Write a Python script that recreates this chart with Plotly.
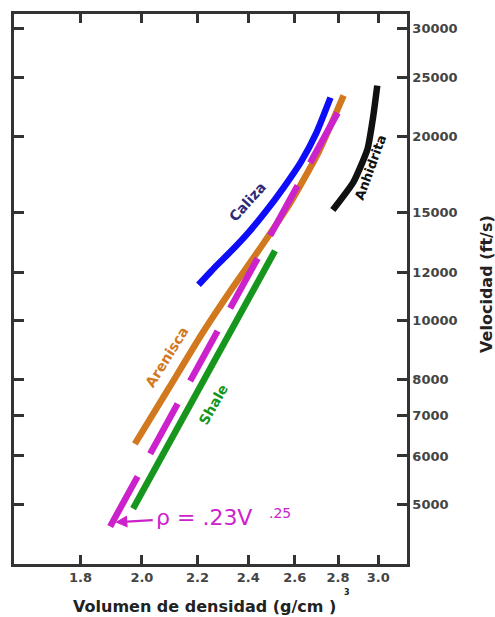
import plotly.graph_objects as go

# --- data ---
caliza_density = [2.204, 2.265, 2.332, 2.400, 2.475, 2.552, 2.627, 2.699, 2.764]
caliza_velocity = [11440, 12200, 13000, 13910, 15100, 16530, 18160, 20320, 23160]

arenisca_density = [1.976, 2.095, 2.216, 2.332, 2.454, 2.582, 2.708, 2.827]
arenisca_velocity = [6280, 7750, 9490, 11240, 13200, 15620, 18850, 23340]

shale_density = [1.97, 2.513]
shale_velocity = [4920, 13000]

gardner_density = [1.894, 2.84]
gardner_velocity = [4600, 23200]

anhidrita_density = [2.775, 2.875, 2.945, 2.975, 2.995]
anhidrita_velocity = [15160, 16840, 19060, 21650, 24230]

x_ticks = [1.8, 2.0, 2.2, 2.4, 2.6, 2.8, 3.0]
x_tick_labels = ["1.8", "2.0", "2.2", "2.4", "2.6", "2.8", "3.0"]
y_ticks = [5000, 6000, 7000, 8000, 10000, 12000, 15000, 20000, 25000, 30000]
y_tick_labels = ["5000", "6000", "7000", "8000", "10000", "12000", "15000", "20000", "25000", "30000"]

BLUE = "#0d0dfa"
ORANGE = "#d2781e"
GREEN = "#17961e"
MAGENTA = "#cc22cc"
BLACK = "#111111"
AXIS = "#333333"

fig = go.Figure()

def add_line(x, y, color, dash="solid", width=6.5, shape="spline"):
    fig.add_trace(go.Scatter(x=x, y=y, mode="lines",
                             line=dict(color=color, width=width, dash=dash, shape=shape, smoothing=0.5),
                             hoverinfo="skip", showlegend=False))

add_line(shale_density, shale_velocity, GREEN, shape="linear")
add_line(arenisca_density, arenisca_velocity, ORANGE)
add_line(caliza_density, caliza_velocity, BLUE)
add_line(gardner_density, gardner_velocity, MAGENTA, dash="57px,26px", shape="linear")
add_line(anhidrita_density, anhidrita_velocity, BLACK)

fig.update_xaxes(type="log", range=[0.20573, 0.49856],
                 tickvals=x_ticks, ticktext=x_tick_labels,
                 showline=True, linecolor=AXIS, linewidth=2.5, mirror="ticks",
                 ticks="inside", ticklen=9, tickwidth=2.5, tickcolor=AXIS,
                 showgrid=False, zeroline=False,
                 tickfont=dict(family="DejaVu Sans", size=13, color="#444444", weight="bold"))
fig.update_yaxes(type="log", range=[3.60130, 4.50154], side="right",
                 tickvals=y_ticks, ticktext=y_tick_labels,
                 showline=True, linecolor=AXIS, linewidth=2.5, mirror="ticks",
                 ticks="inside", ticklen=10, tickwidth=2.5, tickcolor=AXIS,
                 showgrid=False, zeroline=False,
                 tickfont=dict(family="DejaVu Sans", size=13, color="#444444", weight="bold"))

# page-pixel -> paper coordinates (plot frame at x 11..407, y 11..564 on the page)
def px(xpix):
    return (xpix - 11) / 396.0

def py(ypix):
    return (564 - ypix) / 553.0

ann = []
lab_font = dict(family="DejaVu Sans", size=14, weight="bold")
ann.append(dict(text="Caliza", x=px(246), y=py(200), textangle=-48,
                font=dict(lab_font, color="#2a2a78")))
ann.append(dict(text="Arenisca", x=px(165), y=py(356), textangle=-58,
                font=dict(lab_font, color=ORANGE)))
ann.append(dict(text="Shale", x=px(212), y=py(403), textangle=-60,
                font=dict(lab_font, color=GREEN)))
ann.append(dict(text="Anhidrita", x=px(370), y=py(165), textangle=-70,
                font=dict(family="DejaVu Sans", size=13, weight="bold", color=BLACK)))
# formula with arrow
ann.append(dict(text="ρ = .23V", x=px(113), y=py(522), ax=89, ay=-5,
                showarrow=True, arrowhead=2, arrowsize=1.1, arrowwidth=2.2, arrowcolor=MAGENTA,
                standoff=0, startstandoff=2,
                font=dict(family="DejaVu Sans", size=22, color=MAGENTA)))
ann.append(dict(text=".25", x=px(279), y=py(513),
                font=dict(family="DejaVu Sans", size=14, color=MAGENTA)))
# axis titles
ann.append(dict(text="Volumen de densidad (g/cm )", x=px(202.5), y=py(607),
                font=dict(family="DejaVu Sans", size=16, weight="bold", color="#222222")))
ann.append(dict(text="3", x=px(347), y=py(593),
                font=dict(family="DejaVu Sans", size=8, weight="bold", color="#222222")))
ann.append(dict(text="Velocidad (ft/s)", x=px(487), y=py(282), textangle=-90,
                font=dict(family="DejaVu Sans", size=16, weight="bold", color="#222222")))

for a in ann:
    a.setdefault("showarrow", False)
    a["xref"] = "paper"
    a["yref"] = "paper"
    if not a["showarrow"]:
        a["xanchor"] = "center"
        a["yanchor"] = "middle"
fig.update_layout(annotations=ann)

fig.update_layout(width=495, height=617, margin=dict(l=11, r=88, t=11, b=53),
                  paper_bgcolor="white", plot_bgcolor="white", showlegend=False)

# remove the default page margin so the figure fills the window exactly
fig.write_html("out.html",
               config={"displayModeBar": False},
               post_script="document.body.style.margin='0';document.body.style.overflow='hidden';")
